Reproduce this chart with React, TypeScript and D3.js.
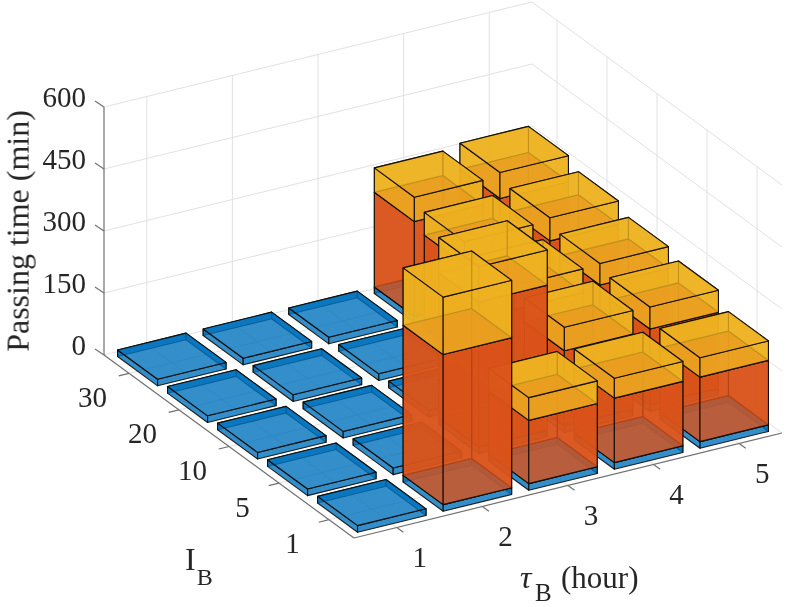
import React from "react";
import * as d3 from "d3";

// ---- data ----
const tauTicks = [1, 2, 3, 4, 5];
const ibPositions = [1, 2, 3, 4, 5];
const ibLabels = ["1", "5", "10", "20", "30"];
const zTicks = [0, 150, 300, 450, 600];

// rows: I_B index, columns: tau index. Cumulative tops.
const blueTop = [
  [16, 16, 16, 16, 16],
  [16, 16, 16, 16, 16],
  [16, 16, 16, 16, 16],
  [16, 16, 16, 16, 16],
  [16, 16, 16, 16, 16],
];
const orangeTop = [
  [16, 379, 169, 172, 172],
  [16, 16, 367, 198, 200],
  [16, 16, 16, 210, 218],
  [16, 16, 16, 230, 236],
  [16, 16, 16, 245, 250],
];
const yellowTop = [
  [16, 518, 224, 220, 219],
  [16, 16, 452, 255, 253],
  [16, 16, 16, 267, 270],
  [16, 16, 16, 285, 292],
  [16, 16, 16, 304, 313],
];

const BLUE = "#0072bd";
const ORANGE = "#d95319";
const YELLOW = "#edb120";
const barHalf = 0.4;
const ink = "#262626";
const gridColor = "#e0e1e3";
const axisColor = "#707070";
const serif = "'Liberation Serif', 'Times New Roman', serif";

// ---- scales and projection ----
const sx = d3.scaleLinear().domain([0.5, 5.5]).range([0, 1]);
const sy = d3.scaleLinear().domain([0.5, 5.5]).range([0, 1]);
const sz = d3.scaleLinear().domain([0, 600]).range([0, -248]);
const origin: [number, number] = [354, 538];
const exVec: [number, number] = [428, -105];
const eyVec: [number, number] = [-250, -183];

type P = [number, number];
const proj = (x: number, y: number, z: number): P => [
  origin[0] + sx(x) * exVec[0] + sy(y) * eyVec[0],
  origin[1] + sx(x) * exVec[1] + sy(y) * eyVec[1] + sz(z),
];
const path = d3.line<P>().x((d) => d[0]).y((d) => d[1]);
const poly = (pts: P[]) => path(pts) + "Z";
const seg = (a: P, b: P) => path([a, b]) as string;

function boxFaces(cx: number, cy: number, z0: number, z1: number) {
  const x0 = cx - barHalf, x1 = cx + barHalf, y0 = cy - barHalf, y1 = cy + barHalf;
  return [
    [proj(x1, y0, z0), proj(x1, y1, z0), proj(x1, y1, z1), proj(x1, y0, z1)],
    [proj(x0, y1, z0), proj(x1, y1, z0), proj(x1, y1, z1), proj(x0, y1, z1)],
    [proj(x0, y0, z0), proj(x0, y1, z0), proj(x0, y1, z1), proj(x0, y0, z1)],
    [proj(x0, y0, z0), proj(x1, y0, z0), proj(x1, y0, z1), proj(x0, y0, z1)],
    [proj(x0, y0, z1), proj(x1, y0, z1), proj(x1, y1, z1), proj(x0, y1, z1)],
  ] as P[][];
}

const Box = ({ cx, cy, z0, z1, color }: any) => (
  <g>
    {boxFaces(cx, cy, z0, z1).map((f: P[], k: number) => (
      <path key={k} d={poly(f)} fill={color} fillOpacity={0.8} stroke="#100b04" strokeOpacity={0.9} strokeWidth={1.1} strokeLinejoin="round" />
    ))}
  </g>
);

const cells = d3
  .cross(d3.range(5), d3.range(5), (j, i) => ({ i, j }))
  .sort((a, b) => b.i + b.j - (a.i + a.j));

export default function App() {
  const xLo = 0.5, xHi = 5.5, yLo = 0.5, yHi = 5.5;
  const zTop = zTicks[zTicks.length - 1];
  return (
    <svg width={786} height={607} viewBox="0 0 786 607" style={{ position: "absolute", left: 0, top: 0, background: "#fff" }}>
      <defs>
        <filter id="soft" filterUnits="userSpaceOnUse" x={0} y={0} width={786} height={607} colorInterpolationFilters="sRGB">
          <feGaussianBlur stdDeviation={0.45} />
        </filter>
      </defs>
      <g filter="url(#soft)">
        <rect x={0} y={0} width={786} height={607} fill="#fff" />
        {/* grid */}
        <g stroke={gridColor} strokeWidth={1} fill="none">
          {zTicks.map((z) => (
            <path key={"z" + z} d={path([proj(xLo, yHi, z), proj(xHi, yHi, z), proj(xHi, yLo, z)]) as string} />
          ))}
          {tauTicks.map((t) => (
            <g key={"t" + t}>
              <path d={seg(proj(t, yLo, 0), proj(t, yHi, 0))} />
              <path d={seg(proj(t, yHi, 0), proj(t, yHi, zTop))} />
            </g>
          ))}
          {ibPositions.map((b) => (
            <g key={"b" + b}>
              <path d={seg(proj(xLo, b, 0), proj(xHi, b, 0))} />
              <path d={seg(proj(xHi, b, 0), proj(xHi, b, zTop))} />
            </g>
          ))}
        </g>
        {/* axes */}
        <g stroke={axisColor} strokeWidth={1.2} fill="none">
          <path d={seg(proj(xLo, yLo, 0), proj(xHi, yLo, 0))} />
          <path d={seg(proj(xLo, yLo, 0), proj(xLo, yHi, 0))} />
          <path d={seg(proj(xLo, yHi, 0), proj(xLo, yHi, zTop))} />
          {tauTicks.map((t) => (
            <path key={t} d={seg(proj(t, yLo, 0), proj(t, yLo - 0.13, 0))} />
          ))}
          {ibPositions.map((b) => (
            <path key={b} d={seg(proj(xLo, b, 0), proj(xLo - 0.12, b, 0))} />
          ))}
          {zTicks.map((z) => {
            const p = proj(xLo, yHi, z);
            return <path key={z} d={seg(p, [p[0] - 9, p[1] - 6])} />;
          })}
        </g>
        {/* bars */}
        {cells.map(({ i, j }) => {
          const cx = tauTicks[i], cy = ibPositions[j];
          const b = blueTop[j][i], o = orangeTop[j][i], y = yellowTop[j][i];
          return (
            <g key={i + "-" + j}>
              <Box cx={cx} cy={cy} z0={0} z1={b} color={BLUE} />
              {o > b && <Box cx={cx} cy={cy} z0={b} z1={o} color={ORANGE} />}
              {y > o && <Box cx={cx} cy={cy} z0={o} z1={y} color={YELLOW} />}
            </g>
          );
        })}
        {/* tick labels */}
        <g fontFamily={serif} fontSize={29} fill={ink}>
          {zTicks.map((z) => {
            const p = proj(xLo, yHi, z);
            return (
              <text key={z} x={86} y={p[1] - 9.7} dy="0.33em" textAnchor="end">{z}</text>
            );
          })}
          {ibPositions.map((b, k) => {
            const p = proj(xLo, b, 0);
            return (
              <text key={b} x={p[0] - 36.5} y={p[1] + 24} dy="0.33em" textAnchor="middle">{ibLabels[k]}</text>
            );
          })}
          {tauTicks.map((t) => {
            const p = proj(t, yLo, 0);
            return (
              <text key={t} x={p[0] + 23} y={p[1] + 30} dy="0.33em" textAnchor="middle">{t}</text>
            );
          })}
        </g>
        {/* axis titles */}
        <g fontFamily={serif} fontSize={32} fill={ink}>
          <text transform="translate(28.6,231) rotate(-90)" textAnchor="middle">Passing time (min)</text>
          <text x={185} y={570}>I<tspan fontSize={24} dx={1} dy={15}>B</tspan></text>
          <text x={520} y={588} fontStyle="italic">τ</text>
          <text x={535} y={601.4} fontSize={25}>B</text>
          <text x={561} y={588} fontSize={31}>(hour)</text>
        </g>
      </g>
    </svg>
  );
}
